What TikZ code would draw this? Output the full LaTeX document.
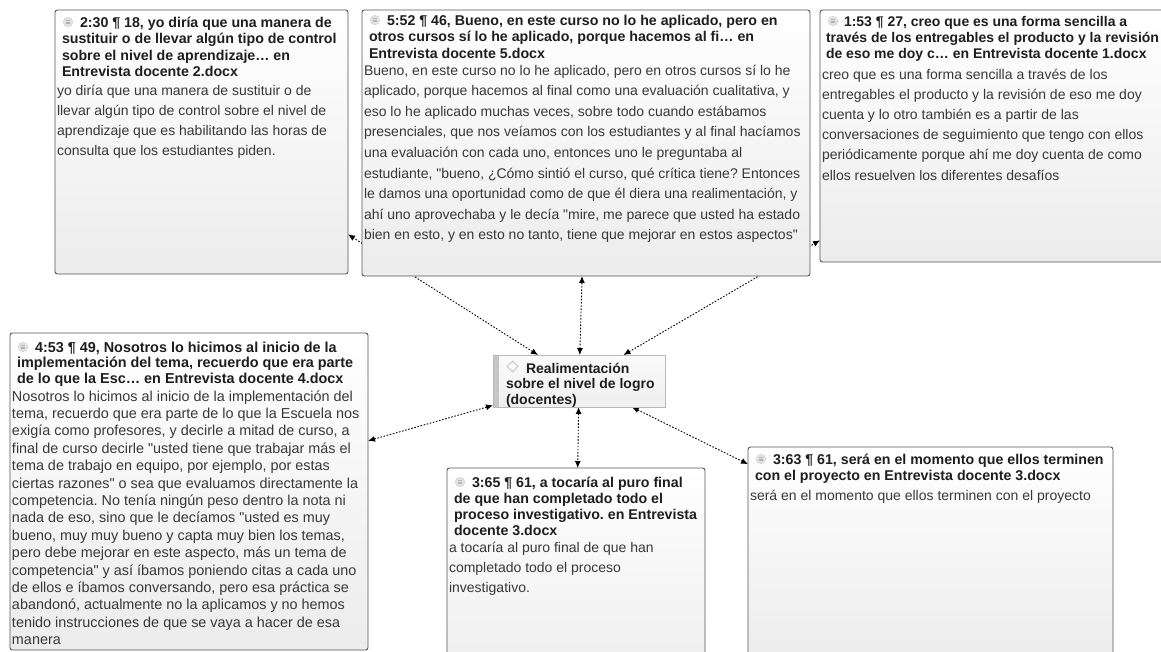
\documentclass[tikz,border=0pt]{standalone}
\usepackage{fontspec}
\setmainfont{Liberation Sans}[Ligatures=TeXOff]
\usetikzlibrary{arrows.meta,backgrounds,shapes.geometric}

\definecolor{frame}{HTML}{555555}
\definecolor{headtxt}{HTML}{1E1E1E}
\definecolor{bodytxt}{HTML}{383838}
\definecolor{boxbot}{HTML}{ECECEC}

% a block of explicitly broken lines; its baseline is that of the first line
\newcommand{\textlines}[3]{\begin{minipage}[t]{600pt}\frenchspacing\fontsize{#1}{#2}\selectfont #3\end{minipage}}

\tikzset{
  quote/.style={draw=frame, line width=0.9pt, rounded corners=2.5pt,
    top color=white, bottom color=boxbot, inner sep=0pt, outer sep=0pt,
    anchor=north west},
  codebox/.style={draw=gray!55, line width=0.8pt, top color=gray!3,
    bottom color=gray!13, inner sep=0pt, outer sep=0pt, anchor=north west,
    path picture={\fill[gray!45] (path picture bounding box.north west)
      rectangle ([xshift=6pt]path picture bounding box.south west);}},
  head/.style={anchor=base west, inner sep=0pt, outer sep=0pt, text=headtxt, font=\bfseries},
  body/.style={anchor=base west, inner sep=0pt, outer sep=0pt, text=bodytxt},
  qicon/.style={circle, minimum size=9.5pt, inner sep=0pt, fill=gray!22, draw=gray!40,
    line width=0.4pt,
    path picture={
      \draw[gray!60, line width=0.5pt]
        ([xshift=-2.3pt,yshift=1.5pt]path picture bounding box.center) -- ++(4.6pt,0pt)
        ([xshift=-2.3pt]path picture bounding box.center) -- ++(4.6pt,0pt)
        ([xshift=-2.3pt,yshift=-1.5pt]path picture bounding box.center) -- ++(4.6pt,0pt);}},
  link/.style={line width=0.9pt, dash pattern=on 1.6pt off 1.6pt,
    {Latex[length=7pt,width=6pt]}-{Latex[length=7pt,width=6pt]}}
}

\begin{document}
\begin{tikzpicture}[x=1pt,y=-1pt]
\useasboundingbox (0,0) rectangle (1161,651);

% quotation boxes
\node[quote, minimum width=293pt, minimum height=264pt] (qA) at (55,10) {};
\node[quote, minimum width=448pt, minimum height=266pt] (qB) at (362,10) {};
\node[quote, minimum width=360pt, minimum height=252pt] (qC) at (820,10) {};
\node[quote, minimum width=358pt, minimum height=317pt] (qD) at (10,333) {};
\node[quote, minimum width=258pt, minimum height=230pt] (qE) at (447,468) {};
\node[quote, minimum width=365pt, minimum height=213pt] (qF) at (748,447) {};

% the code
\node[codebox, minimum width=172pt, minimum height=52pt] (code) at (493,355) {};
\node[diamond, draw=gray!55, line width=0.6pt, fill=white, minimum size=11pt, inner sep=0pt] (codeicon) at (512.5,366.5) {};
\node[head] (codetext) at (506,373)
  {\textlines{14}{15.5}{\hspace*{20pt}Realimentación\\sobre el nivel de logro\\(docentes)}};

% links between the code and its quotations
\begin{scope}[on background layer]
  \draw[link] (code) -- (qA);
  \draw[link] (code) -- (qB);
  \draw[link] (code) -- (qC);
  \draw[link] (code) -- (qD);
  \draw[link] (code) -- (qE);
  \draw[link] (code) -- (qF);
\end{scope}

% 2:30
\node[qicon] (qAi) at (68,22) {};
\node[head] (qAh) at (62,27) {\textlines{14.2}{16.5}{\hspace*{18pt}2:30 ¶ 18, yo diría que una manera de\\sustituir o de llevar algún tipo de control\\sobre el nivel de aprendizaje… en\\Entrevista docente 2.docx}};
\node[body] (qAb) at (57,95) {\textlines{14}{20}{yo diría que una manera de sustituir o de\\llevar algún tipo de control sobre el nivel de\\aprendizaje que es habilitando las horas de\\consulta que los estudiantes piden.}};

% 5:52
\node[qicon] (qBi) at (375,20) {};
\node[head] (qBh) at (369,25) {\textlines{14.2}{16.5}{\hspace*{18pt}5:52 ¶ 46, Bueno, en este curso no lo he aplicado, pero en\\otros cursos sí lo he aplicado, porque hacemos al fi… en\\Entrevista docente 5.docx}};
\node[body] (qBb) at (364,75) {\textlines{14}{20.6}{Bueno, en este curso no lo he aplicado, pero en otros cursos sí lo he\\aplicado, porque hacemos al final como una evaluación cualitativa, y\\eso lo he aplicado muchas veces, sobre todo cuando estábamos\\presenciales, que nos veíamos con los estudiantes y al final hacíamos\\una evaluación con cada uno, entonces uno le preguntaba al\\estudiante, "bueno, ¿Cómo sintió el curso, qué crítica tiene? Entonces\\le damos una oportunidad como de que él diera una realimentación, y\\ahí uno aprovechaba y le decía "mire, me parece que usted ha estado\\bien en esto, y en esto no tanto, tiene que mejorar en estos aspectos"}};

% 1:53
\node[qicon] (qCi) at (833,21) {};
\node[head] (qCh) at (826,26) {\textlines{14}{16.3}{\hspace*{18pt}1:53 ¶ 27, creo que es una forma sencilla a\\través de los entregables el producto y la revisión\\de eso me doy c… en Entrevista docente 1.docx}};
\node[body] (qCb) at (822,79) {\textlines{14}{20.2}{creo que es una forma sencilla a través de los\\entregables el producto y la revisión de eso me doy\\cuenta y lo otro también es a partir de las\\conversaciones de seguimiento que tengo con ellos\\periódicamente porque ahí me doy cuenta de como\\ellos resuelven los diferentes desafíos}};

% 4:53
\node[qicon] (qDi) at (23,347) {};
\node[head] (qDh) at (17,352) {\textlines{14.4}{15.5}{\hspace*{18pt}4:53 ¶ 49, Nosotros lo hicimos al inicio de la\\implementación del tema, recuerdo que era parte\\de lo que la Esc… en Entrevista docente 4.docx}};
\node[body] (qDb) at (12,401) {\textlines{14.4}{17.4}{Nosotros lo hicimos al inicio de la implementación del\\tema, recuerdo que era parte de lo que la Escuela nos\\exigía como profesores, y decirle a mitad de curso, a\\final de curso decirle "usted tiene que trabajar más el\\tema de trabajo en equipo, por ejemplo, por estas\\ciertas razones" o sea que evaluamos directamente la\\competencia. No tenía ningún peso dentro la nota ni\\nada de eso, sino que le decíamos "usted es muy\\bueno, muy muy bueno y capta muy bien los temas,\\pero debe mejorar en este aspecto, más un tema de\\competencia" y así íbamos poniendo citas a cada uno\\de ellos e íbamos conversando, pero esa práctica se\\abandonó, actualmente no la aplicamos y no hemos\\tenido instrucciones de que se vaya a hacer de esa\\manera}};

% 3:65
\node[qicon] (qEi) at (460,482) {};
\node[head] (qEh) at (454,487) {\textlines{14.2}{16}{\hspace*{18pt}3:65 ¶ 61, a tocaría al puro final\\de que han completado todo el\\proceso investigativo. en Entrevista\\docente 3.docx}};
\node[body] (qEb) at (449,552) {\textlines{14}{20}{a tocaría al puro final de que han\\completado todo el proceso\\investigativo.}};

% 3:63
\node[qicon] (qFi) at (761,459) {};
\node[head] (qFh) at (755,464) {\textlines{14.2}{16}{\hspace*{18pt}3:63 ¶ 61, será en el momento que ellos terminen\\con el proyecto en Entrevista docente 3.docx}};
\node[body] (qFb) at (750,500) {\textlines{14}{20}{será en el momento que ellos terminen con el proyecto}};

\end{tikzpicture}
\end{document}
